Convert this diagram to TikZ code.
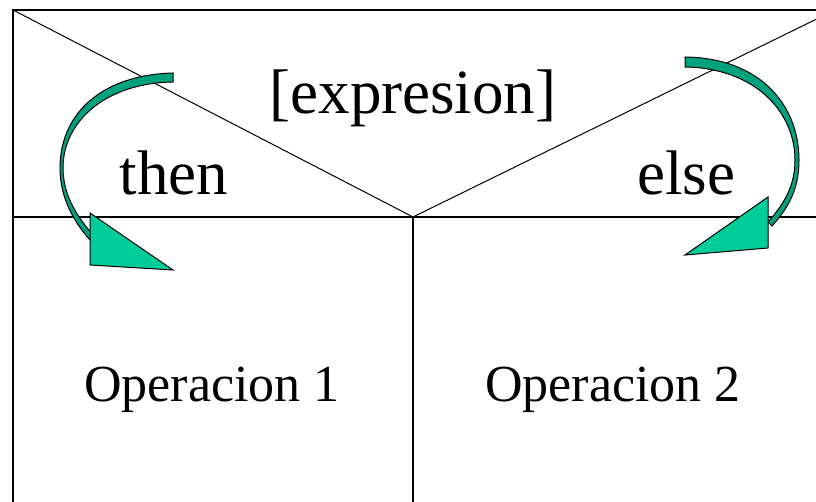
\documentclass[tikz,border=0pt]{standalone}
\usepackage{fontspec}
\setmainfont{Liberation Serif}
\definecolor{bandgreen}{HTML}{00A27E}
\definecolor{headgreen}{HTML}{00CC99}

\begin{document}
\begin{tikzpicture}[x=1pt,y=-1pt,
    frame/.style={line width=2.6pt},
    diag/.style={line width=1pt},
    band/.style={fill=bandgreen,draw=black,line width=1pt},
    tip/.style={fill=headgreen,draw=black,line width=1pt,line join=miter},
    big/.style={font=\fontsize{63}{70}\selectfont},
    ops/.style={font=\fontsize{52}{60}\selectfont}]
  \useasboundingbox (0,0) rectangle (816,502);
  \clip (0,0) rectangle (816,502);
  \coordinate (tl) at (13,10);
  \coordinate (tr) at (835,10);
  \coordinate (ml) at (13,217);
  \coordinate (mr) at (835,217);
  \coordinate (mid) at (413,217);
  \coordinate (bl) at (13,510);
  \coordinate (bm) at (413,510);
  % table frame
  \draw[frame] (bl) -- (tl) -- (tr);
  \draw[frame] (ml) -- (mr);
  \draw[frame] (mid) -- (bm);
  \draw[diag] (tl) -- (mid) -- (tr);
  % labels
  \node[big] (cond) at (413,98) {[expresion]};
  \node[big] (thn) at (174,173) {then};
  \node[big] (els) at (686,173) {else};
  \node[ops] (op1) at (212,390) {Operacion 1};
  \node[ops] (op2) at (613,390) {Operacion 2};
  % curved arrows
  \draw[band] (173,73) .. controls (100,75) and (60,115) .. (60,168)
    .. controls (60,198) and (74,222) .. (90,240)
    -- (94,236) .. controls (78,218) and (63,196) .. (63,168)
    .. controls (63,122) and (105,83) .. (173,82) -- cycle;
  \draw[tip] (90,213) -- (173,270) -- (90,265) -- cycle;
  \draw[band] (685,57) .. controls (760,58) and (799,105) .. (799,160)
    .. controls (799,190) and (788,208) .. (772,226)
    -- (768,222) .. controls (784,204) and (795,186) .. (795,160)
    .. controls (795,112) and (755,68) .. (685,67) -- cycle;
  \draw[tip] (768,197) -- (768,248) -- (685,255) -- cycle;
\end{tikzpicture}
\end{document}
